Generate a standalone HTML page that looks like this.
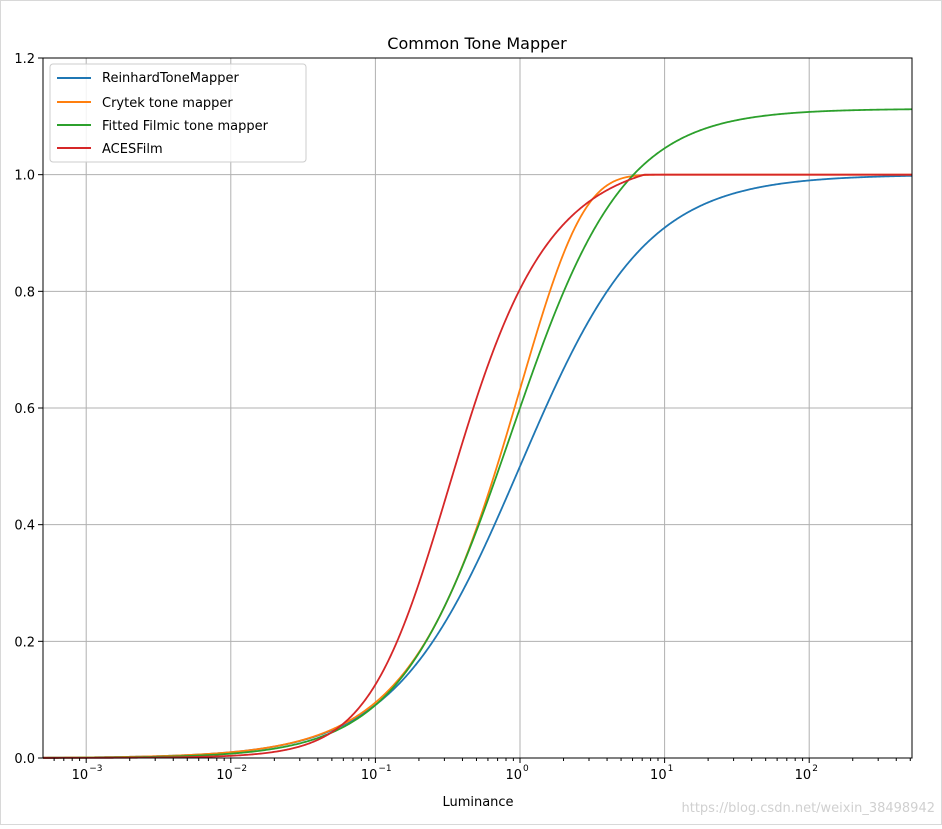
<!DOCTYPE html>
<html><head><meta charset="utf-8">
<style>
html,body{margin:0;padding:0;background:#fff;}
body{width:942px;height:825px;overflow:hidden;position:relative;font-family:"DejaVu Sans","Liberation Sans",sans-serif;}
svg text{font-family:"DejaVu Sans","Liberation Sans",sans-serif;}
</style></head><body>
<svg id="s" width="942" height="825" xmlns="http://www.w3.org/2000/svg">
<rect x="0.5" y="0.5" width="941" height="824" fill="#fff" stroke="#d8d8d8"/>
<g id="grid"></g>
<g id="curves" fill="none" stroke-width="1.8"></g>
<rect x="43" y="58" width="869" height="700" fill="none" stroke="#000" stroke-width="1"/>
<g id="ticks" stroke="#000"></g>
<g id="labels" font-size="13" fill="#000"></g>
<text x="477" y="49" font-size="16" text-anchor="middle">Common Tone Mapper</text>
<text x="478" y="806" font-size="13" text-anchor="middle">Luminance</text>
<g>
<rect x="50" y="64" width="256" height="98" rx="3" fill="#fff" fill-opacity="0.85" stroke="#ccc"/>
<line x1="57" y1="78" x2="91" y2="78" stroke="#1f77b4" stroke-width="2"/>
<text x="102" y="82" font-size="13">ReinhardToneMapper</text>
<line x1="57" y1="102" x2="91" y2="102" stroke="#ff7f0e" stroke-width="2"/>
<text x="102" y="107" font-size="13">Crytek tone mapper</text>
<line x1="57" y1="125" x2="91" y2="125" stroke="#2ca02c" stroke-width="2"/>
<text x="102" y="130" font-size="13">Fitted Filmic tone mapper</text>
<line x1="57" y1="148" x2="91" y2="148" stroke="#d62728" stroke-width="2"/>
<text x="102" y="153" font-size="13">ACESFilm</text>
</g>
<text x="935" y="812" font-size="13" fill="#d0d0d0" text-anchor="end">https://blog.csdn.net/weixin_38498942</text>
</svg>
<script>
var L=43,R=912,T=58,B=758,dec=144.6;
function X(v){return 520+Math.log10(v)*dec;}
function Y(v){return B-v/1.2*(B-T);}
var ns="http://www.w3.org/2000/svg";
function el(p,t,a){var e=document.createElementNS(ns,t);for(var k in a)e.setAttribute(k,a[k]);p.appendChild(e);return e;}
var g=document.getElementById('grid'),tk=document.getElementById('ticks'),lb=document.getElementById('labels');
for(var d=-3;d<=2;d++){var x=X(Math.pow(10,d));
el(g,'line',{x1:x,y1:T,x2:x,y2:B,stroke:'#b0b0b0','stroke-width':1});
el(tk,'line',{x1:x,y1:B,x2:x,y2:B+5});
var t=el(lb,'text',{x:x+2,y:B+21,'text-anchor':'end'});t.textContent='10';
var s=el(lb,'text',{x:x+3,y:B+13,'font-size':'9','text-anchor':'start'});s.textContent=d<0?'\u2212'+(-d):String(d);
}
for(var d=-4;d<=2;d++)for(var m=2;m<=9;m++){var v=m*Math.pow(10,d),x=X(v);if(x<L||x>R)continue;el(tk,'line',{x1:x,y1:B,x2:x,y2:B+3});}
for(var i=0;i<=6;i++){var v=i*0.2,y=Y(v);
if(i>0&&i<6)el(g,'line',{x1:L,y1:y,x2:R,y2:y,stroke:'#b0b0b0','stroke-width':1});
el(tk,'line',{x1:L-5,y1:y,x2:L,y2:y});
var t=el(lb,'text',{x:L-8,y:y+5,'text-anchor':'end'});t.textContent=v.toFixed(1);}
var fs=[
['#1f77b4',function(x){return x/(1+x);}],
['#ff7f0e',function(x){return 1-Math.exp(-x);}],
['#2ca02c',function(x){var p=Math.pow(x,1.12);return 1.113*p/(p+0.855);}],
['#d62728',function(x){return Math.min(1,(x*(2.51*x+0.03))/(x*(2.43*x+0.59)+0.14));}]];
var c=document.getElementById('curves');
fs.forEach(function(f){var d='';for(var px=L;px<=R;px+=1){var v=Math.pow(10,(px-520)/dec);d+=(px==L?'M':'L')+px+','+Y(f[1](v)).toFixed(2);}
el(c,'path',{d:d,stroke:f[0]});});
</script>
</body></html>
